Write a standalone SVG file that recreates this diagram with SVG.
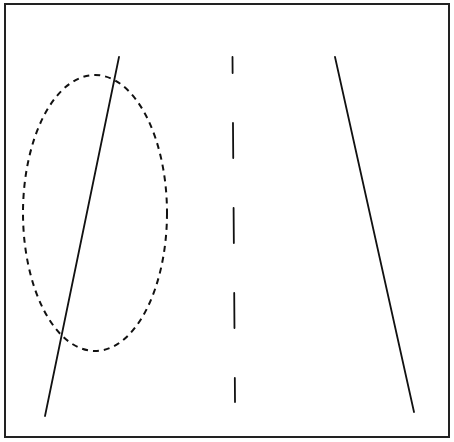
<svg xmlns="http://www.w3.org/2000/svg" width="454" height="442" viewBox="0 0 454 442">
<style>
.ln{stroke:#111;stroke-width:1.8;fill:none;stroke-linecap:round}
</style>
<rect width="454" height="442" fill="#fff"/>
<rect x="5" y="4" width="444" height="433" fill="none" stroke="#222" stroke-width="2"/>
<g id="connectors">
<line class="ln" x1="119" y1="57" x2="45" y2="416"/>
<line class="ln" x1="335" y1="57" x2="414" y2="412"/>
<line class="ln" x1="232.5" y1="57" x2="235" y2="402" stroke-width="2" stroke-linecap="butt" stroke-dasharray="35 50" stroke-dashoffset="19"/>
</g>
<g id="ellipse">
<ellipse cx="95" cy="213" rx="72" ry="138" fill="none" stroke="#111" stroke-width="2" stroke-dasharray="6 5"/>
</g>
</svg>
